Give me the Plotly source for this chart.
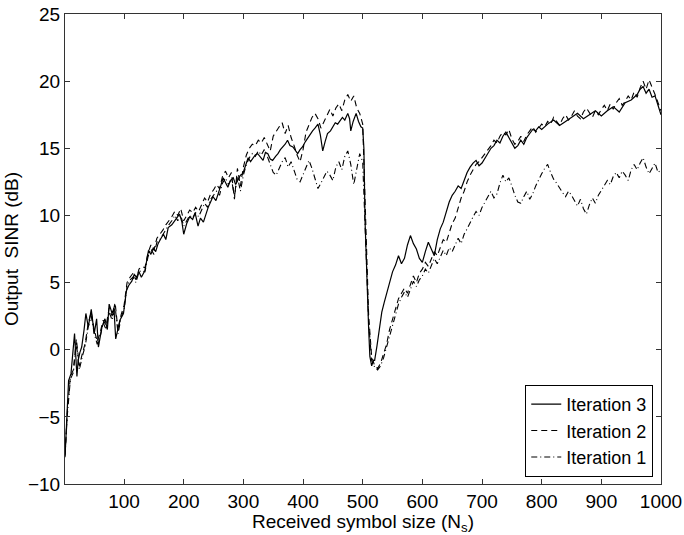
import plotly.graph_objects as go

# ---------------- data ----------------
ns_iter3 = [1, 4, 7, 11, 14, 17, 21, 23, 26, 29, 33, 36, 40, 45, 50, 54, 57, 60, 63, 68,
            72, 75, 80, 83, 86, 90, 93, 99, 104, 108, 113, 117, 121, 125, 129, 135, 141, 145, 149, 153,
            157, 162, 166, 170, 174, 180, 185, 189, 193, 197, 200, 205, 210, 215, 219, 224, 228, 233, 237, 241,
            245, 249, 254, 258, 262, 266, 270, 274, 278, 283, 287, 291, 295, 299, 304, 308, 312, 316, 320, 324,
            329, 333, 337, 341, 345, 349, 354, 358, 362, 366, 370, 374, 378, 383, 387, 391, 395, 399, 404, 408,
            412, 416, 420, 425, 429, 433, 437, 441, 446, 450, 454, 458, 462, 466, 470, 475, 478, 480, 484, 489,
            493, 497, 500, 502, 504, 506, 508, 510, 512, 515, 518, 520, 524, 528, 532, 536, 540, 545, 550, 555,
            560, 565, 570, 575, 580, 585, 590, 595, 600, 605, 610, 615, 620, 625, 630, 635, 640, 645, 650, 655,
            660, 665, 670, 675, 680, 685, 690, 695, 700, 705, 710, 715, 720, 725, 730, 735, 740, 745, 750, 755,
            760, 765, 770, 775, 780, 785, 790, 795, 800, 810, 820, 830, 840, 850, 860, 870, 880, 890, 900, 910,
            920, 930, 940, 950, 960, 965, 970, 975, 980, 985, 990, 995, 1000]
sinr_iter3 = [-8.0, -5.0, -2.3, -1.8, -0.5, 1.2, -2.0, -0.8, -0.2, 0.2, 1.5, 2.7, 1.7, 3.0, 1.2, 2.3, 0.2, 1.0, 1.7, 2.3,
              1.5, 3.4, 2.7, 3.1, 0.8, 1.6, 2.2, 2.7, 4.4, 4.8, 5.1, 5.6, 5.4, 5.8, 5.4, 5.9, 7.4, 7.1, 7.6, 7.3,
              7.9, 8.3, 8.6, 8.2, 9.1, 9.3, 9.6, 9.9, 10.1, 9.5, 8.6, 9.4, 9.9, 9.7, 10.2, 9.2, 9.8, 9.5, 10.1, 10.6,
              11.0, 11.4, 11.1, 11.6, 12.2, 12.8, 12.4, 12.1, 12.6, 12.8, 12.3, 12.6, 13.0, 13.1, 13.7, 14.3, 14.0, 14.3, 14.5, 14.6,
              14.3, 14.1, 14.7, 14.6, 14.2, 14.1, 14.4, 14.6, 14.9, 15.1, 15.3, 15.6, 15.2, 15.1, 14.8, 14.6, 14.9, 15.1, 15.5, 15.8,
              16.0, 16.3, 16.5, 16.8, 16.0, 14.8, 15.5, 16.1, 16.3, 16.6, 16.9, 16.8, 17.1, 17.3, 17.1, 17.6, 17.2, 16.3, 17.0, 17.6,
              17.0, 16.6, 16.5, 15.0, 9.5, 6.5, 4.0, 1.5, -0.5, -1.2, -0.8, -0.8, 0.3, 1.5, 2.8, 3.5, 4.2, 5.0, 5.8, 6.3,
              7.0, 6.4, 6.8, 7.8, 8.5, 7.9, 7.5, 6.8, 6.5, 7.3, 8.0, 7.5, 7.0, 8.2, 9.0, 9.5, 10.2, 11.0, 11.5, 11.8,
              12.2, 12.0, 12.6, 13.2, 13.6, 13.9, 14.1, 13.7, 13.9, 14.3, 14.6, 15.0, 15.2, 15.6, 15.4, 15.9, 16.2, 15.8, 15.4, 15.0,
              15.2, 15.6, 15.3, 15.8, 16.1, 16.4, 16.3, 16.6, 16.4, 16.8, 17.1, 16.7, 17.0, 17.3, 17.6, 17.2, 17.5, 17.8, 17.4, 17.8,
              18.1, 17.7, 18.4, 18.6, 19.0, 19.4, 19.6, 19.1, 19.4, 18.8, 18.9, 18.2, 17.5]

ns_step5 = [1] + list(range(5, 1001, 5))

sinr_iter2 = [-7.8,
              -4.5, -2.0, -1.5, 0.8, -1.2, -0.3, 0.5, 2.0, 2.8, 1.5,
              0.6, 1.3, 2.2, 1.8, 3.1, 2.5, 3.5, 1.4, 2.6, 3.3,
              5.0, 5.4, 5.7, 5.2, 6.0, 6.2, 6.1, 7.2, 7.8, 7.4,
              8.3, 8.6, 8.9, 9.3, 9.6, 9.9, 10.3, 10.0, 10.5, 9.6,
              10.0, 10.4, 10.2, 10.6, 10.3, 10.8, 11.3, 11.0, 11.6, 11.9,
              12.3, 12.0, 12.9, 13.3, 12.8, 13.2, 11.2, 13.5, 12.2, 13.6,
              14.5, 15.0, 15.3, 15.2, 15.6, 15.4, 15.8, 15.3, 14.8, 15.9,
              16.3, 16.6, 16.9, 16.1, 16.7, 15.8, 15.2, 14.5, 14.0, 14.9,
              16.2, 16.8, 17.3, 17.6, 17.2, 16.5, 17.0, 17.5, 17.9, 17.4,
              18.0, 18.3, 17.8, 18.6, 19.0, 18.5, 18.9, 18.0, 17.6, 16.8,
              9.0, 2.5, -0.5, -1.2, -1.4, -1.0, -0.3, 0.4, 1.5, 2.3,
              3.0, 3.8, 4.2, 4.6, 4.2, 4.8, 5.5, 5.0, 5.7, 6.0,
              6.5, 6.2, 6.8, 7.3, 7.0, 7.6, 8.2, 8.0, 8.8, 9.4,
              9.8, 10.5, 11.3, 11.8, 12.5, 13.0, 13.4, 13.8, 14.0, 14.3,
              14.6, 14.9, 15.2, 15.6, 15.4, 15.9, 16.2, 16.0, 16.4, 15.7,
              15.3, 15.5, 15.9, 15.5, 16.0, 16.3, 16.6, 16.2, 16.5, 16.8,
              16.6, 17.0, 16.8, 17.3, 17.0, 16.7, 17.2, 17.5, 17.1, 17.4,
              17.8, 17.4, 17.2, 17.7, 18.0, 17.6, 17.3, 17.8, 17.5, 17.9,
              18.2, 17.8, 18.3, 17.9, 18.4, 18.7, 18.2, 18.5, 18.9, 18.6,
              19.2, 18.8, 19.5, 20.0, 19.4, 20.1, 19.6, 19.0, 18.4, 17.8]

sinr_iter1 = [-7.9,
              -4.8, -2.2, -1.7, 0.5, -1.5, -0.5, 0.3, 1.7, 2.5, 1.2,
              0.4, 1.0, 2.0, 1.5, 2.8, 2.2, 3.2, 1.2, 2.4, 3.0,
              4.7, 5.2, 5.4, 5.0, 5.8, 5.9, 5.8, 6.9, 7.5, 7.1,
              8.0, 8.2, 8.6, 9.0, 9.3, 9.6, 10.0, 9.6, 10.0, 9.2,
              9.6, 10.0, 9.8, 10.2, 9.9, 10.4, 10.9, 10.6, 11.2, 11.5,
              11.8, 11.5, 12.4, 12.8, 12.3, 12.7, 11.4, 12.9, 11.8, 13.0,
              13.8, 14.3, 14.6, 14.4, 14.8, 14.5, 14.9, 14.4, 13.8, 13.2,
              13.0, 13.5, 14.0, 14.3, 13.6, 14.0, 13.4, 12.7, 12.5, 13.0,
              13.6, 14.1, 13.5, 12.8, 12.0, 12.4, 12.9, 13.3, 13.0, 12.6,
              13.6, 14.0, 13.4, 14.4, 14.8, 13.8, 12.3, 13.4, 14.6, 14.0,
              8.0, 2.0, -0.8, -1.3, -1.5, -1.2, -0.6, 0.2, 1.2, 2.0,
              2.7, 3.4, 3.9, 4.3, 3.9, 4.5, 5.1, 4.7, 5.2, 5.5,
              6.0, 5.7, 6.3, 6.8, 6.4, 6.9, 7.4, 7.0, 7.6, 7.3,
              7.8, 8.3, 7.9, 8.6, 9.0, 9.5, 9.9, 10.3, 10.0, 10.6,
              11.0, 11.4, 11.8, 11.3, 11.6, 12.4, 13.0, 12.5, 12.8, 12.2,
              11.5, 11.0, 10.9, 11.4, 11.8, 11.2, 11.6, 12.2, 12.7, 13.1,
              13.5, 13.8, 13.2, 12.7, 12.4, 12.0, 11.7, 11.4, 11.8, 11.5,
              11.1, 10.7, 11.2, 10.5, 10.1, 10.8, 11.3, 10.9, 11.5, 11.9,
              12.2, 12.6, 12.3, 12.9, 13.2, 12.8, 13.3, 13.0, 12.6, 13.4,
              13.8, 13.4, 13.9, 14.3, 13.6, 13.1, 13.5, 13.9, 13.2, 13.4]

x_ticks = list(range(100, 1001, 100))
y_ticks = list(range(-10, 26, 5))

# ---------------- figure ----------------
FONT = "Liberation Sans, Arial, Helvetica, sans-serif"
FS = 19
fig = go.Figure()
fig.add_trace(go.Scatter(x=ns_iter3, y=sinr_iter3, mode="lines", name="Iteration 3",
                         line=dict(color="black", width=1.2, dash="solid")))
fig.add_trace(go.Scatter(x=ns_step5, y=sinr_iter2, mode="lines", name="Iteration 2",
                         line=dict(color="black", width=1.1, dash="6px,4px")))
fig.add_trace(go.Scatter(x=ns_step5, y=sinr_iter1, mode="lines", name="Iteration 1",
                         line=dict(color="black", width=1.1, dash="6px,3px,1px,3px")))

axis_common = dict(showline=True, linecolor="#333", linewidth=1, mirror="allticks",
                   ticks="inside", ticklen=5, tickcolor="#333", showgrid=False, zeroline=False,
                   automargin=False,
                   tickfont=dict(size=FS, color="black", family=FONT))
fig.update_xaxes(range=[1, 1000], tickvals=x_ticks,
                 title=dict(text="Received symbol size (N<sub>s</sub>)", font=dict(size=FS, family=FONT, color="black"),
                            standoff=0),
                 **axis_common)
fig.update_yaxes(range=[-10, 25], tickvals=y_ticks,
                 title=dict(text="Output  SINR (dB)", font=dict(size=FS, family=FONT, color="black"),
                            standoff=4),
                 **axis_common)

fig.update_layout(
    width=684, height=535,
    margin=dict(l=65, r=23, t=14, b=51),
    paper_bgcolor="white", plot_bgcolor="white",
    font=dict(family=FONT, size=FS, color="black"),
    legend=dict(x=0.987, y=0.015, xanchor="right", yanchor="bottom",
                bordercolor="black", borderwidth=1, bgcolor="white",
                font=dict(size=18, family=FONT, color="black"),
                tracegroupgap=0, itemwidth=30),
    showlegend=True,
)

fig.write_html("out.html")
